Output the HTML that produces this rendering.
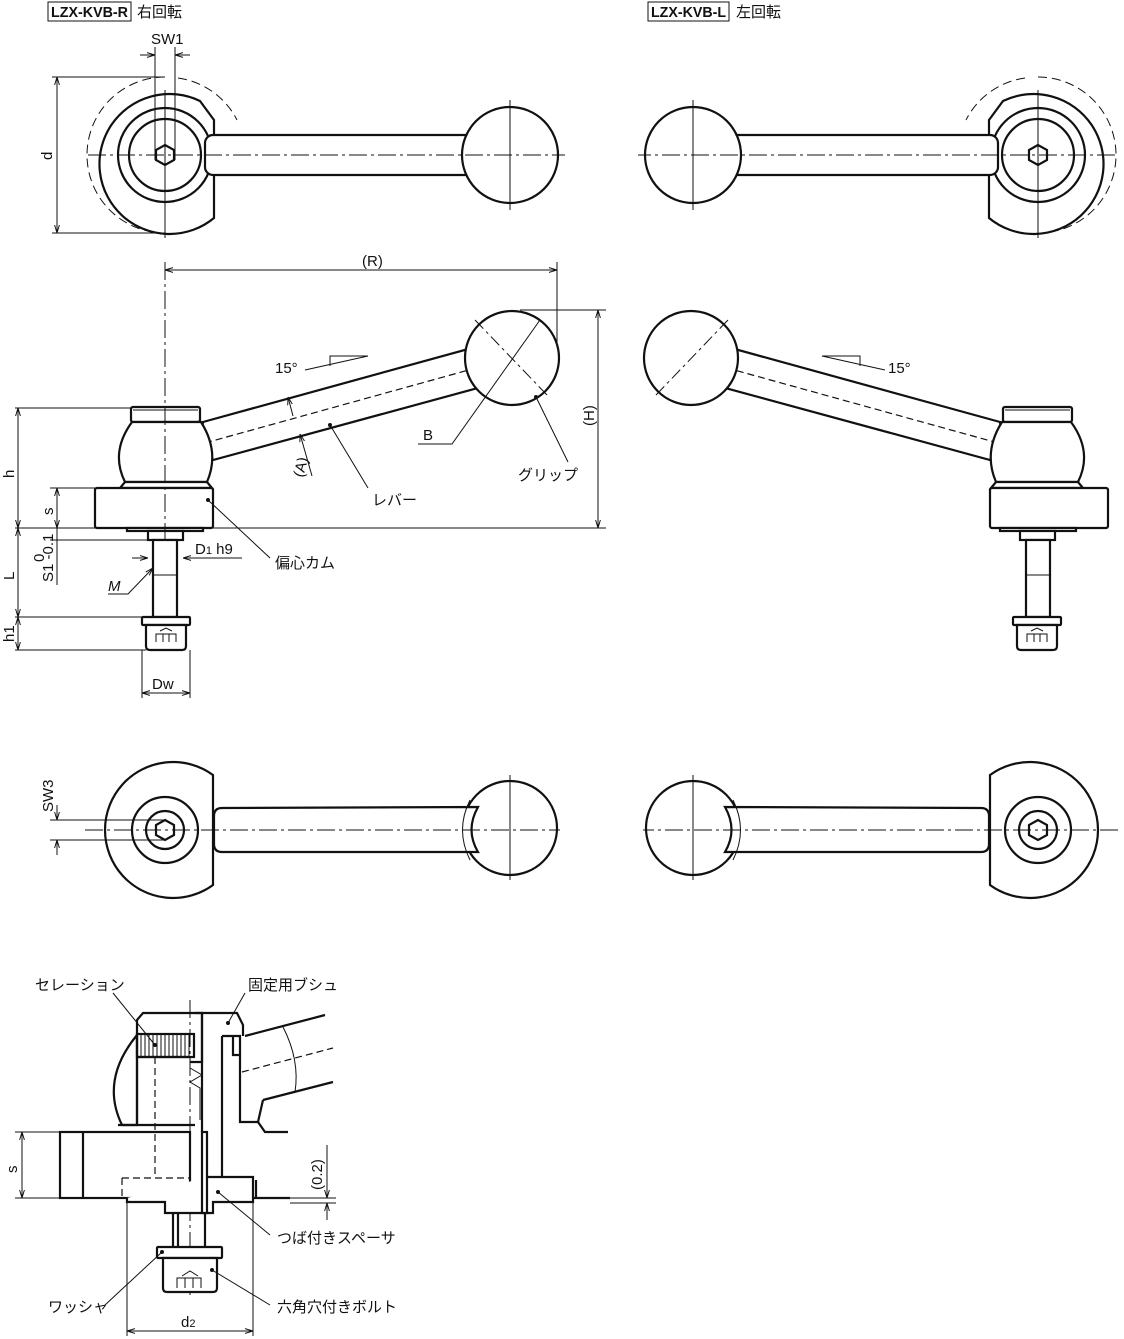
<!DOCTYPE html>
<html><head><meta charset="utf-8"><style>
html,body{margin:0;padding:0;background:#fff;}
svg{display:block;}
text{font-family:"Liberation Sans","Noto Sans CJK JP",sans-serif;fill:#111;font-size:15px;}
.o{stroke:#111;stroke-width:2.2;fill:#fff;}
.on{stroke:#111;stroke-width:2.2;fill:none;}
.t{stroke:#111;stroke-width:1;fill:none;}
.c{stroke:#111;stroke-width:1;fill:none;stroke-dasharray:18 4 3 4;}
.h{stroke:#111;stroke-width:1.2;fill:none;stroke-dasharray:7 4;}
</style></head><body>
<svg width="1124" height="1339" viewBox="0 0 1124 1339" xmlns="http://www.w3.org/2000/svg">
<defs>
<marker id="a" viewBox="0 0 10 10" refX="10" refY="5" markerWidth="8" markerHeight="8" orient="auto-start-reverse"><path d="M0,2 L10,5 L0,8" fill="none" stroke="#111" stroke-width="1.2"/></marker>
<circle id="dot" r="2" fill="#111"/>
<g id="top">
 <path class="t" d="M165,77 A78,78 0 0 0 165,233" stroke-dasharray="9 5"/>
 <path class="t" d="M178,78 A78,78 0 0 1 237,120" stroke-dasharray="9 5"/>
 <path class="o" d="M214,120 L200,101 A70,70 0 1 0 214,218 Z"/>
 <circle class="on" cx="165" cy="155" r="47" stroke-width="1.8"/>
 <circle class="on" cx="165" cy="155" r="36" stroke-width="3.2"/>
 <polygon class="o" stroke-width="1.5" points="165,145 174,150 174,160 165,165 156,160 156,150"/>
 <rect class="o" x="205" y="135" width="270" height="40" rx="8"/>
 <circle class="o" cx="510" cy="155" r="48"/>
 <line class="c" x1="88" y1="155" x2="565" y2="155"/>
 <line class="t" x1="510" y1="100" x2="510" y2="210"/>
 <line class="t" x1="165" y1="90" x2="165" y2="238"/>
</g>
<g id="side">
 <path class="o" d="M203,422 L512,337 L522,376 L213,460 Q200,441 203,422 Z"/>
 <line class="h" x1="205" y1="443" x2="512" y2="358"/>
 <circle class="o" cx="512" cy="358" r="47"/>
 <line class="t" x1="475" y1="320" x2="548" y2="396" stroke-dasharray="12 4 3 4"/>
 <rect class="o" x="131" y="407" width="69" height="15" rx="2"/>
 <line class="t" x1="133" y1="410" x2="198" y2="410" stroke-width="2.5"/>
 <path class="o" d="M132,422 L201,422 Q220,452 207,482 L125,482 Q110,452 132,422 Z"/>
 <path class="o" d="M125,482 L207,482 L212,488 L120,488 Z"/>
 <rect class="o" x="95" y="488" width="118" height="40" rx="2"/>
 <rect class="o" x="127" y="528" width="76" height="3"/>
 <rect class="o" x="148" y="531" width="35" height="9"/>
 <rect class="o" x="153" y="540" width="24" height="77"/>
 <line class="t" x1="153" y1="575" x2="177" y2="575"/>
 <rect class="o" x="142" y="617" width="48" height="8" rx="1"/>
 <path class="o" d="M146,625 L186,625 L186,646 Q186,650 182,650 L150,650 Q146,650 146,646 Z"/>
 <path class="t" d="M156,642 L156,634 L176,634 L176,642 M163,634 L163,642 M169,634 L169,642 M160,631 L166,628 L172,631"/>
</g>
<g id="bot">
 <path class="o" d="M213,775 A68,68 0 1 0 213,885 Z"/>
 <circle class="on" cx="165" cy="830" r="33" stroke-width="1.5"/>
 <circle class="on" cx="165" cy="830" r="19" stroke-width="1.8"/>
 <polygon class="o" stroke-width="1.5" points="165,820 174,825 174,835 165,840 156,835 156,825"/>
 <circle class="o" cx="510" cy="828" r="47"/>
 <path class="o" d="M478,807 Q465,830 478,852 L222,852 Q214,852 214,844 L214,816 Q214,808 222,808 Z"/>
 <path class="t" d="M470,800 Q455,830 470,860"/>
 <line class="c" x1="85" y1="830" x2="560" y2="830"/>
 <line class="t" x1="510" y1="775" x2="510" y2="880"/>
</g>
</defs>

<rect x="48" y="2" width="83" height="19" fill="none" stroke="#111" stroke-width="1"/>
<text x="51" y="17" font-weight="bold" font-size="14" textLength="77" lengthAdjust="spacingAndGlyphs">LZX-KVB-R</text>
<text x="137" y="17" font-size="14">右回転</text>
<rect x="648" y="2" width="81" height="19" fill="none" stroke="#111" stroke-width="1"/>
<text x="651" y="17" font-weight="bold" font-size="14" textLength="75" lengthAdjust="spacingAndGlyphs">LZX-KVB-L</text>
<text x="736" y="17" font-size="14">左回転</text>

<use href="#top"/>
<use href="#top" transform="translate(1203,0) scale(-1,1)"/>
<use href="#side"/>
<use href="#side" transform="translate(1203,0) scale(-1,1)"/>
<use href="#bot"/>
<use href="#bot" transform="translate(1203,0) scale(-1,1)"/>

<line class="t" x1="155" y1="47" x2="155" y2="160"/><line class="t" x1="175" y1="47" x2="175" y2="160"/>
<line class="t" x1="140" y1="55" x2="155" y2="55" marker-end="url(#a)"/><line class="t" x1="190" y1="55" x2="175" y2="55" marker-end="url(#a)"/>
<text x="151" y="44" font-size="12">SW1</text>
<line class="t" x1="52" y1="77" x2="165" y2="77"/><line class="t" x1="52" y1="233" x2="165" y2="233"/>
<line class="t" x1="57" y1="77" x2="57" y2="233" marker-start="url(#a)" marker-end="url(#a)"/>
<text x="0" y="0" transform="translate(52,160) rotate(-90)">d</text>

<line class="c" x1="165" y1="262" x2="165" y2="540"/>
<line class="t" x1="557" y1="262" x2="557" y2="345"/>
<line class="t" x1="165" y1="270" x2="557" y2="270" marker-start="url(#a)" marker-end="url(#a)"/>
<text x="362" y="266" font-size="13">(R)</text>
<line class="t" x1="520" y1="310" x2="606" y2="310"/>
<line class="t" x1="15" y1="528" x2="606" y2="528"/>
<line class="t" x1="598" y1="310" x2="598" y2="528" marker-start="url(#a)" marker-end="url(#a)"/>
<text x="0" y="0" font-size="13" transform="translate(594,426) rotate(-90)">(H)</text>
<line class="t" x1="15" y1="408" x2="131" y2="408"/>
<line class="t" x1="18" y1="408" x2="18" y2="528" marker-start="url(#a)" marker-end="url(#a)"/>
<text x="0" y="0" transform="translate(14,478) rotate(-90)">h</text>
<line class="t" x1="50" y1="488" x2="95" y2="488"/>
<line class="t" x1="57" y1="488" x2="57" y2="528" marker-start="url(#a)" marker-end="url(#a)"/>
<text x="0" y="0" transform="translate(53,515) rotate(-90)">s</text>
<line class="t" x1="50" y1="540" x2="148" y2="540"/>
<line class="t" x1="57" y1="528" x2="57" y2="540"/>
<line class="t" x1="57" y1="540" x2="57" y2="585"/>
<text x="0" y="0" font-size="11" transform="translate(53,582) rotate(-90)">S1 -0.1</text>
<text x="0" y="0" font-size="8" transform="translate(44,562) rotate(-90)">0</text>
<line class="t" x1="18" y1="528" x2="18" y2="617" marker-start="url(#a)" marker-end="url(#a)"/>
<text x="0" y="0" transform="translate(14,580) rotate(-90)">L</text>
<line class="t" x1="15" y1="617" x2="142" y2="617"/>
<line class="t" x1="15" y1="650" x2="146" y2="650"/>
<line class="t" x1="18" y1="617" x2="18" y2="650" marker-start="url(#a)" marker-end="url(#a)"/>
<text x="0" y="0" transform="translate(14,642) rotate(-90)">h1</text>
<line class="t" x1="142" y1="650" x2="142" y2="698"/><line class="t" x1="190" y1="650" x2="190" y2="698"/>
<line class="t" x1="142" y1="693" x2="190" y2="693" marker-start="url(#a)" marker-end="url(#a)"/>
<text x="152" y="689">Dw</text>
<line class="t" x1="132" y1="558" x2="148" y2="558" marker-end="url(#a)"/>
<line class="t" x1="242" y1="558" x2="183" y2="558" marker-end="url(#a)"/>
<text x="195" y="554">D<tspan font-size="11">1</tspan> h9</text>
<polyline class="t" points="108,594 128,594 153,568" marker-end="url(#a)"/>
<text x="108" y="591" font-style="italic">M</text>
<text x="275" y="373">15°</text>
<polyline class="t" points="305,370 368,356 330,356 330,366"/>
<text x="888" y="373">15°</text>
<polyline class="t" points="885,370 822,356 860,356 860,366"/>
<line class="t" x1="288" y1="397" x2="293" y2="416" marker-start="url(#a)"/>
<line class="t" x1="300" y1="434" x2="312" y2="476" marker-start="url(#a)"/>
<text x="0" y="0" font-size="13" transform="translate(303,478) rotate(-75)">(A)</text>
<polyline class="t" points="418,444 452,444 540,320"/>
<text x="423" y="440">B</text>
<line class="t" x1="568" y1="462" x2="536" y2="397"/><use href="#dot" x="536" y="397"/>
<text x="518" y="480">グリップ</text>
<line class="t" x1="368" y1="488" x2="330" y2="425"/><use href="#dot" x="330" y="425"/>
<text x="372" y="505">レバー</text>
<line class="t" x1="270" y1="558" x2="208" y2="500"/><use href="#dot" x="208" y="500"/>
<text x="275" y="568">偏心カム</text>

<line class="t" x1="50" y1="820" x2="165" y2="820"/><line class="t" x1="50" y1="840" x2="165" y2="840"/>
<line class="t" x1="57" y1="805" x2="57" y2="820" marker-end="url(#a)"/><line class="t" x1="57" y1="855" x2="57" y2="840" marker-end="url(#a)"/>
<text x="0" y="0" font-size="12" transform="translate(53,812) rotate(-90)">SW3</text>

<path class="o" d="M137,1035 Q100,1080 122,1125 L137,1125 Z"/>
<polyline class="on" points="137,1125 137,1020 143,1013 237,1013 243,1025 243,1036"/>
<rect class="on" x="137" y="1034" width="57" height="23" stroke-width="1.5"/>
<path class="t" d="M141,1034V1057M145,1034V1057M149,1034V1057M153,1034V1057M157,1034V1057M161,1034V1057M165,1034V1057M169,1034V1057M173,1034V1057M177,1034V1057M181,1034V1057M185,1034V1057M189,1034V1057"/>
<line class="on" x1="137" y1="1057" x2="190" y2="1057"/>
<polyline class="on" points="195,1013 202,1013 202,1062 190,1062"/>
<polyline class="on" points="202,1013 202,1132"/>
<polyline class="t" points="190,1068 202,1075 190,1082 200,1088 200,1120"/>
<polyline class="on" points="222,1036 222,1177"/>
<polyline class="on" points="222,1036 240,1036 240,1122 258,1122 263,1100"/>
<polyline class="on" points="233,1036 233,1055 240,1055"/>
<line class="on" x1="245" y1="1036" x2="325" y2="1015"/>
<line class="on" x1="263" y1="1100" x2="333" y2="1082"/>
<line class="h" x1="242" y1="1072" x2="333" y2="1048"/>
<path class="t" d="M283,1027 Q300,1060 295,1092"/>
<polyline class="on" points="258,1122 265,1132 288,1132"/>
<line class="c" x1="190" y1="1000" x2="190" y2="1295"/>
<rect class="o" x="60" y="1132" width="130" height="66"/>
<line class="on" x1="83" y1="1132" x2="83" y2="1198"/>
<polyline class="on" points="118,1125 195,1125"/>
<line class="h" x1="122" y1="1178" x2="190" y2="1178"/>
<line class="h" x1="155" y1="1057" x2="155" y2="1178"/>
<line class="h" x1="122" y1="1178" x2="122" y2="1198"/>
<polyline class="o" points="127,1198 127,1202 165,1202 165,1213 213,1213 213,1202 253,1202 253,1177 207,1177"/>
<line class="on" x1="253" y1="1198" x2="290" y2="1198"/>
<line class="on" x1="256" y1="1180" x2="256" y2="1198"/>
<rect class="o" x="202" y="1132" width="5" height="81" stroke-width="1.5"/>
<line class="on" x1="173" y1="1213" x2="173" y2="1247"/><line class="on" x1="178" y1="1213" x2="178" y2="1247"/>
<line class="on" x1="205" y1="1213" x2="205" y2="1247"/>
<rect class="o" x="157" y="1247" width="65" height="11" rx="1"/>
<path class="o" d="M163,1258 L217,1258 L217,1288 Q217,1292 213,1292 L167,1292 Q163,1292 163,1288 Z"/>
<path class="t" d="M177,1288 L177,1278 L201,1278 L201,1288 M185,1278 L185,1288 M193,1278 L193,1288 M182,1276 L190,1271 L198,1276"/>
<line class="t" x1="15" y1="1132" x2="60" y2="1132"/><line class="t" x1="15" y1="1198" x2="60" y2="1198"/>
<line class="t" x1="22" y1="1132" x2="22" y2="1198" marker-start="url(#a)" marker-end="url(#a)"/>
<text x="0" y="0" transform="translate(17,1173) rotate(-90)">s</text>
<line class="t" x1="290" y1="1198" x2="336" y2="1198"/><line class="t" x1="290" y1="1203" x2="336" y2="1203"/>
<line class="t" x1="327" y1="1145" x2="327" y2="1198" marker-end="url(#a)"/>
<line class="t" x1="327" y1="1220" x2="327" y2="1203" marker-end="url(#a)"/>
<text x="0" y="0" font-size="14" transform="translate(322,1190) rotate(-90)">(0.2)</text>
<line class="t" x1="127" y1="1200" x2="127" y2="1336"/><line class="t" x1="253" y1="1200" x2="253" y2="1336"/>
<line class="t" x1="127" y1="1331" x2="253" y2="1331" marker-start="url(#a)" marker-end="url(#a)"/>
<text x="181" y="1327">d<tspan font-size="11">2</tspan></text>
<text x="35" y="990">セレーション</text>
<line class="t" x1="113" y1="993" x2="155" y2="1045"/><use href="#dot" x="155" y="1045"/>
<text x="248" y="990">固定用ブシュ</text>
<line class="t" x1="245" y1="993" x2="228" y2="1023"/><use href="#dot" x="228" y="1023"/>
<text x="277" y="1243">つば付きスペーサ</text>
<line class="t" x1="270" y1="1235" x2="218" y2="1192"/><use href="#dot" x="218" y="1192"/>
<text x="48" y="1312">ワッシャ</text>
<line class="t" x1="105" y1="1305" x2="162" y2="1252"/><use href="#dot" x="162" y="1252"/>
<text x="277" y="1312">六角穴付きボルト</text>
<line class="t" x1="270" y1="1305" x2="212" y2="1270"/><use href="#dot" x="212" y="1270"/>
</svg>
</body></html>
